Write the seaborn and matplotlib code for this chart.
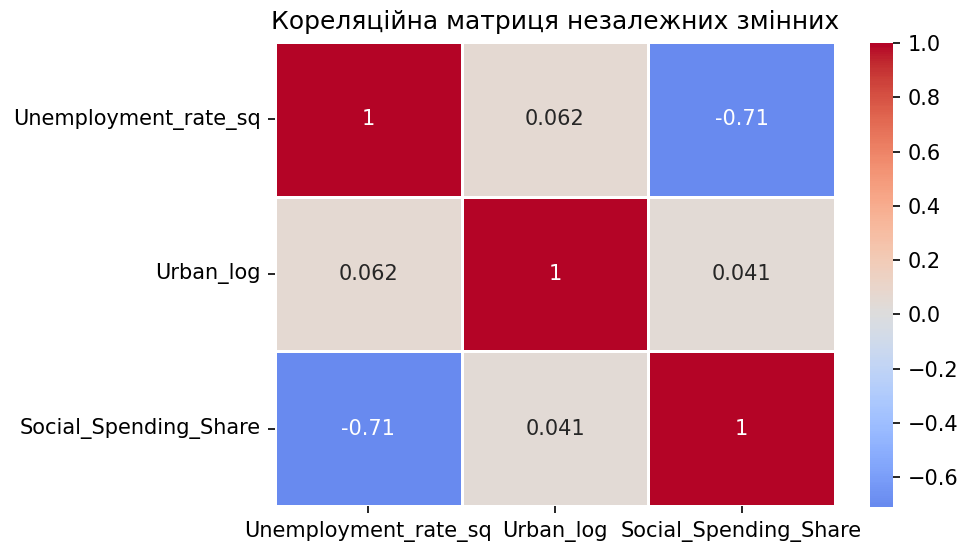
import pandas as pd
import matplotlib
matplotlib.use("Agg")
import matplotlib.pyplot as plt
import seaborn as sns

variables = ['Unemployment_rate_sq', 'Urban_log', 'Social_Spending_Share']
row_unemp = [1.0, 0.062, -0.71]
row_urban = [0.062, 1.0, 0.041]
row_social = [-0.71, 0.041, 1.0]

corr = pd.DataFrame([row_unemp, row_urban, row_social], index=variables, columns=variables)

fig = plt.figure(figsize=(962 / 150, 545 / 150), dpi=150)
ax = fig.add_axes([275 / 962, 1 - 506 / 545, 560 / 962, 464 / 545])
cax = fig.add_axes([870 / 962, 1 - 507 / 545, 23 / 962, 464 / 545])

sns.heatmap(corr, annot=True, cmap='coolwarm', center=0, linewidths=0.5,
            linecolor='white', ax=ax, cbar_ax=cax)
ax.set_title('Кореляційна матриця незалежних змінних')
plt.setp(ax.get_yticklabels(), rotation=0)
plt.setp(ax.get_xticklabels(), rotation=0)
cax.tick_params(labelsize=10)

fig.savefig('out.png', dpi=150)
